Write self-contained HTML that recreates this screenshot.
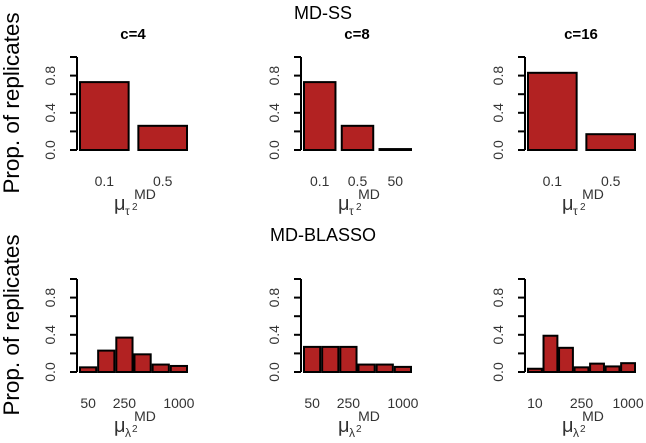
<!DOCTYPE html>
<html><head><meta charset="utf-8"><style>
body{margin:0;background:#fff}
svg{display:block;font-family:"Liberation Sans",sans-serif}
</style></head><body>
<svg id="c" width="646" height="443">
<text x="323" y="19" font-size="18" text-anchor="middle">MD-SS</text>
<text x="323" y="241" font-size="18" text-anchor="middle">MD-BLASSO</text>
<text transform="translate(19,103) rotate(-90)" font-size="22.5" text-anchor="middle">Prop. of replicates</text>
<text transform="translate(19,325) rotate(-90)" font-size="22.5" text-anchor="middle">Prop. of replicates</text>
</svg>
<script>
const panelTitles = ["c=4","c=8","c=16"];
const ssCats = [["0.1","0.5"],["0.1","0.5","50"],["0.1","0.5"]];
const ssVals = [[0.73,0.26],[0.73,0.26,0.01],[0.83,0.17]];
const blCats = [["50","","250","","","1000"],["50","","250","","","1000"],["10","","","250","","","1000"]];
const blVals = [[0.05,0.23,0.37,0.19,0.08,0.065],[0.27,0.27,0.27,0.08,0.08,0.055],[0.035,0.39,0.26,0.05,0.09,0.06,0.095]];
const yTicks = [0,0.2,0.4,0.6,0.8,1.0];
const yLabels = ["0.0","","0.4","","0.8",""];

const svg = document.getElementById('c');
const NS = "http://www.w3.org/2000/svg";
function mk(tag, attrs){const e=document.createElementNS(NS,tag);for(const k in attrs)e.setAttribute(k,attrs[k]);svg.appendChild(e);return e;}
const axisX = [77,301,525];

function panel(p, row, cats, vals, space, sym){
  const ax = axisX[p];
  const y0 = row===0 ? 150 : 372;
  const yS = v => y0 - v*93;
  const n = vals.length;
  const L = 107, x0 = ax+3;
  const w = L/(n + space*(n-1));
  const xS = i => x0 + i*w*(1+space);
  const al = mk('line',{x1:ax,x2:ax,y1:yS(0),y2:yS(1),stroke:'#000','stroke-width':2});
  
  
  yTicks.forEach((t,i)=>{
    const tk = mk('line',{x1:ax-7,x2:ax,y1:yS(t),y2:yS(t),stroke:'#000','stroke-width':2});
    
    
    if(yLabels[i]){
      const tl = mk('text',{transform:`translate(${ax-22},${yS(t)}) rotate(-90)`,'font-size':14,'text-anchor':'middle',fill:'#333'});
      tl.textContent = yLabels[i];
      
      
    }
  });
  vals.forEach((v,i)=>{
    const r = mk('rect',{x:xS(i),y:yS(v),width:w,height:Math.max(yS(0)-yS(v),0.5),fill:'#B22222',stroke:'#000','stroke-width':2});
    
    
    if(cats[i]){
      const t = mk('text',{x:xS(i)+w/2,y:y0+36,'font-size':14,'text-anchor':'middle',fill:'#333'});
      t.textContent = cats[i];
      
      
    }
  });
  const md = mk('text',{x:ax+68,y:y0+49,'font-size':14,'text-anchor':'middle',fill:'#333'});
  md.textContent='MD';
  
  
  const mu = mk('text',{x:ax+37,y:y0+60,'font-size':20,fill:'#333'});
  mu.textContent='μ';
  
  
  const sub = mk('text',{x:ax+48,y:y0+65,'font-size':12,fill:'#333'});
  sub.textContent=sym;
  
  
  const sp = mk('text',{x:ax+55,y:y0+60,'font-size':10,fill:'#333'});
  sp.textContent='2';
  
  
  if(row===0){
    const tt = mk('text',{x:ax+56,y:39,'font-size':15,'font-weight':'bold','text-anchor':'middle'});
    tt.textContent = panelTitles[p];
    
    
  }
}
for(let p=0;p<3;p++){
  panel(p,0,ssCats[p],ssVals[p],0.2,'τ');
  panel(p,1,blCats[p],blVals[p],0.12,'λ');
}
</script>
</body></html>
